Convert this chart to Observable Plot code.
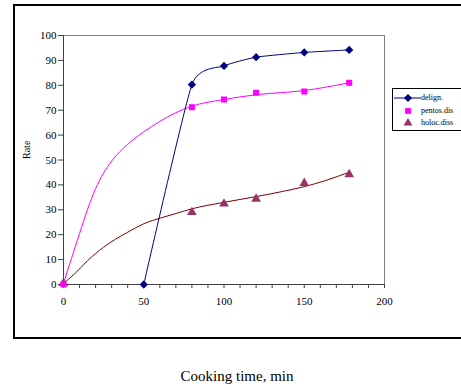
<!DOCTYPE html>
<html>
<head>
<meta charset="utf-8">
<script src="https://cdn.jsdelivr.net/npm/d3@7"></script>
<script src="https://cdn.jsdelivr.net/npm/@observablehq/plot@0.6"></script>
<style>
  html, body { margin: 0; padding: 0; background: #fff; }
  #wrap { position: relative; width: 461px; height: 390px; overflow: hidden; }
  #frame { position: absolute; left: 13px; top: 4px; width: 470px; height: 331px; border: 2px solid #000; box-sizing: content-box; }
  #legend { position: absolute; left: 392px; top: 88px; width: 90px; height: 41px; border: 1px solid #000; background: #fff;
            font-family: "Liberation Serif", "DejaVu Serif", serif; font-size: 8px; color: #000; }
  #legend .row { position: absolute; left: 0; height: 12px; line-height: 12px; }
  #legend svg { position: absolute; left: 1px; top: 0; }
  #legend span { position: absolute; left: 28px; white-space: nowrap; }
  #chart { position: absolute; left: 0; top: 0; }
</style>
</head>
<body>
<div id="wrap">
  <div id="chart"></div>
  <div id="frame"></div>
  <div id="legend"></div>
</div>
<script>
// Series names and colours
const seriesNames = ["delign.", "pentos.dis", "holoc.diss"];
const lineColors = ["#000080", "#FF00FF", "#800000"];
const markerColors = ["#000080", "#FF00FF", "#993366"];

// delign. (markers + smoothed line through markers)
const delignX = [50, 80, 100, 120, 150, 178];
const delignY = [0, 80.3, 87.8, 91.3, 93.2, 94.2];

// pentos.dis markers
const pentosX = [0, 80, 100, 120, 150, 178];
const pentosY = [0, 71.2, 74.3, 77.0, 77.5, 81.0];
// pentos.dis trend line
const pentosLineX = [0, 5, 10, 15, 20, 25, 30, 40, 50, 60, 70, 80, 100, 120, 150, 178];
const pentosLineY = [0.5, 10.5, 20.5, 30.2, 38.5, 44.8, 49.6, 56.3, 61.3, 65.5, 69, 71.6, 74.3, 76.2, 77.9, 81.0];

// holoc.diss markers
const holocX = [0, 80, 100, 120, 150, 178];
const holocY = [0.5, 29.0, 32.4, 34.4, 40.7, 44.2];
// holoc.diss trend line
const holocLineX = [0, 6.5, 15, 25, 40, 50, 61, 71, 80, 100, 120, 136, 150, 163, 178];
const holocLineY = [0.5, 4, 9.6, 15, 21, 24.4, 26.8, 28.7, 30.4, 33, 35.3, 37.3, 39.3, 41.7, 45.1];

// Axis ticks
const xMinorTicks = d3.range(0, 201, 10);
const xLabelTicks = [0, 50, 100, 150, 200];
const yTicks = [0, 10, 20, 30, 40, 50, 60, 70, 80, 90, 100];

const zip = (xs, ys) => xs.map((x, i) => ({x, y: ys[i]}));
const delign = zip(delignX, delignY);
const pentos = zip(pentosX, pentosY);
const pentosLine = zip(pentosLineX, pentosLineY);
const holoc = zip(holocX, holocY);
const holocLine = zip(holocLineX, holocLineY);

// square rotated by 45° (Excel-style diamond)
const excelDiamond = {
  draw(context, size) {
    const r = Math.sqrt(size / 2);
    context.moveTo(0, -r);
    context.lineTo(r, 0);
    context.lineTo(0, r);
    context.lineTo(-r, 0);
    context.closePath();
  }
};
const symbols = [excelDiamond, d3.symbolSquare, d3.symbolTriangle];

const font = `"Liberation Serif", "DejaVu Serif", serif`;

const chart = Plot.plot({
  width: 461,
  height: 390,
  marginLeft: 63,
  marginRight: 77,
  marginTop: 35,
  marginBottom: 106,
  style: { fontFamily: font, fontSize: "11px", background: "transparent", color: "#000" },
  x: { domain: [0, 200] },
  y: { domain: [0, 100] },
  marks: [
    // plot border top/right
    Plot.ruleY([100], { stroke: "#808080", strokeWidth: 1 }),
    Plot.ruleX([200], { stroke: "#808080", strokeWidth: 1 }),
    // axes
    Plot.axisX({ ticks: xMinorTicks, tickSize: 4, tickFormat: () => "", label: null, stroke: "#404040" }),
    Plot.axisX({ ticks: xLabelTicks, tickSize: 0, tickPadding: 13, label: null, fontSize: 11 }),
    Plot.axisY({ ticks: yTicks, tickSize: 5, tickPadding: 2, label: null, fontSize: 11, stroke: "#404040" }),
    Plot.ruleX([0], { stroke: "#404040", strokeWidth: 1 }),
    Plot.ruleY([0], { stroke: "#404040", strokeWidth: 1 }),
    // lines
    Plot.line(pentosLine, { x: "x", y: "y", stroke: lineColors[1], strokeWidth: 1, curve: "monotone-x" }),
    Plot.line(holocLine, { x: "x", y: "y", stroke: lineColors[2], strokeWidth: 1, curve: "monotone-x" }),
    Plot.line(delign, { x: "x", y: "y", stroke: lineColors[0], strokeWidth: 1, curve: "cardinal", tension: 0.5 }),
    // markers
    Plot.dot(holoc, { x: "x", y: "y", symbol: symbols[2], fill: markerColors[2], r: 3.6 }),
    Plot.dot(pentos, { x: "x", y: "y", symbol: symbols[1], fill: markerColors[1], r: 3.4 }),
    Plot.dot(delign, { x: "x", y: "y", symbol: symbols[0], fill: markerColors[0], r: 3.3 }),
    // axis titles
    Plot.text(["Rate"], { frameAnchor: "left", dx: -37, dy: -1, rotate: -90, fontSize: 10, fill: "#000" }),
    Plot.text(["Cooking time, min"], { frameAnchor: "bottom", dy: 96, dx: 13, fontSize: 15, fill: "#000" })
  ]
});
document.getElementById("chart").appendChild(chart);

// Legend
const legend = document.getElementById("legend");
seriesNames.forEach((name, i) => {
  const row = document.createElement("div");
  row.className = "row";
  row.style.top = (3 + i * 12.5) + "px";
  row.style.width = "90px";
  const svg = d3.create("svg").attr("width", 27).attr("height", 12);
  if (i === 0) {
    svg.append("line").attr("x1", 0).attr("x2", 27).attr("y1", 6).attr("y2", 6)
      .attr("stroke", lineColors[0]).attr("stroke-width", 1);
  }
  svg.append("path").attr("d", d3.symbol(symbols[i], 34)()).attr("transform", "translate(14,6)")
    .attr("fill", markerColors[i]);
  row.appendChild(svg.node());
  const span = document.createElement("span");
  span.textContent = name;
  row.appendChild(span);
  legend.appendChild(row);
});
</script>
</body>
</html>
